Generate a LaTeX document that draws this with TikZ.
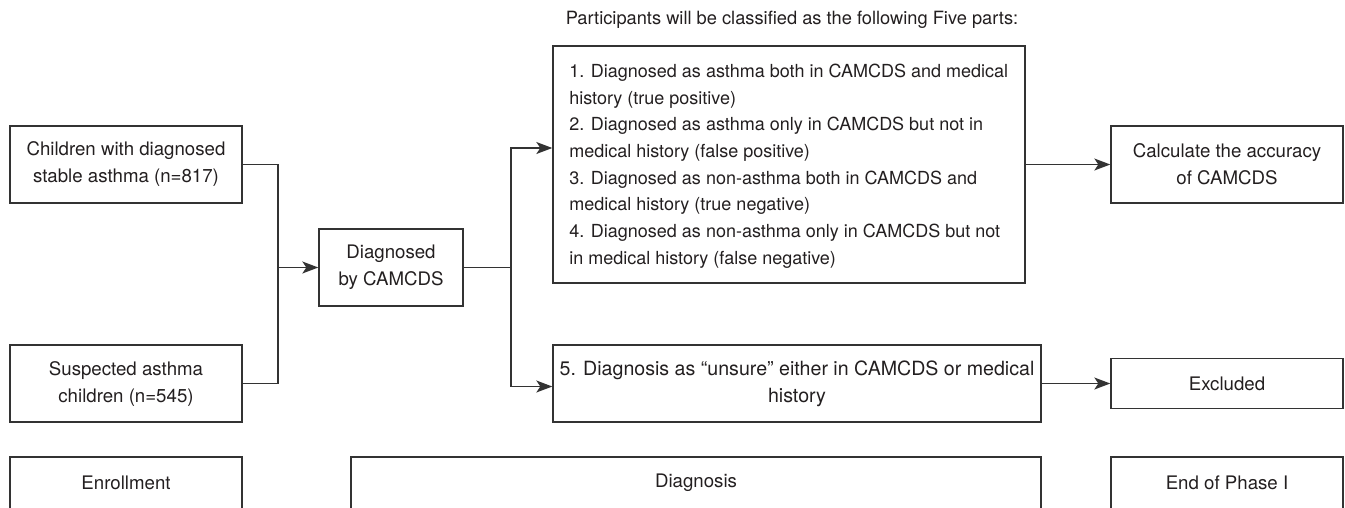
\documentclass[tikz,border=0pt]{standalone}
\usepackage{fontspec}
\setmainfont{TeX Gyre Heros}
\usetikzlibrary{arrows.meta,calc}
\definecolor{linec}{HTML}{333333}
\definecolor{textc}{HTML}{231F20}
\begin{document}
\begin{tikzpicture}[x=0.75pt,y=-0.75pt,
  every node/.style={text=textc,font=\fontsize{14}{20.25}\selectfont},
  boxn/.style={draw=linec,line width=1.05pt,rectangle,inner sep=0pt,align=center},
  conn/.style={draw=linec,line width=1.05pt},
  arr/.style={conn,-{Stealth[length=12pt,width=9pt,inset=3pt]}}]
\useasboundingbox (0,0) rectangle (1345,507);
\clip (0,0) rectangle (1345,507);
% nodes
\node[boxn,minimum width=232*0.75pt,minimum height=77*0.75pt] (A) at (126,164.5) {Children with diagnosed\\stable asthma (n=817)};
\node[boxn,minimum width=232*0.75pt,minimum height=77*0.75pt] (B) at (126,383.5) {Suspected asthma\\children (n=545)};
\node[boxn,minimum width=144*0.75pt,minimum height=77*0.75pt] (D) at (391,267.5) {Diagnosed\\by CAMCDS};
\node[font=\fontsize{13.7}{20}\selectfont] (T) at (792,20) {Participants will be classified as the following Five parts:};
\node[boxn,minimum width=472*0.75pt,minimum height=237*0.75pt] (P) at (789,164.5) {};
\node[anchor=west,align=left,inner sep=0pt,font=\fontsize{13.5}{20}\selectfont] (Pt) at (569,166) {1. Diagnosed as asthma both in CAMCDS and medical\\history (true positive)\\2. Diagnosed as asthma only in CAMCDS but not in\\medical history (false positive)\\3. Diagnosed as non-asthma both in CAMCDS and\\medical history (true negative)\\4. Diagnosed as non-asthma only in CAMCDS but not\\in medical history (false negative)};
\node[boxn,minimum width=488*0.75pt,minimum height=77*0.75pt,font=\fontsize{14.7}{20}\selectfont] (U) at (797,383.5) {5. Diagnosis as \char"201C unsure\char"201D{} either in CAMCDS or medical\\history};
\node[boxn,minimum width=232*0.75pt,minimum height=77*0.75pt] (C) at (1227,164.5) {Calculate the accuracy\\of CAMCDS};
\node[boxn,minimum width=232*0.75pt,minimum height=50*0.75pt] (E) at (1227,383.5) {Excluded};
\node[boxn,minimum width=232*0.75pt,minimum height=52*0.75pt] (En) at (126,483) {Enrollment};
\node[boxn,minimum width=690*0.75pt,minimum height=52*0.75pt] (Dg) at (696,483) {Diagnosis};
\node[boxn,minimum width=232*0.75pt,minimum height=52*0.75pt] (Ep) at (1227,483) {End of Phase I};
% junctions
\coordinate (j1) at (278,267.5);
\coordinate (j2) at (511,267.5);
% connectors
\draw[conn] (A.east) -| (j1);
\draw[conn] (B.east) -| (j1);
\draw[arr] (j1) -- (D.west);
\draw[conn] (D.east) -- (j2);
\draw[arr] (j2) |- ($(P.west)+(0,-16.5)$);
\draw[arr] (j2) |- ($(U.west)+(0,3)$);
\draw[arr] (P.east) -- (C.west);
\draw[arr] (U.east) -- (E.west);
\end{tikzpicture}
\end{document}
